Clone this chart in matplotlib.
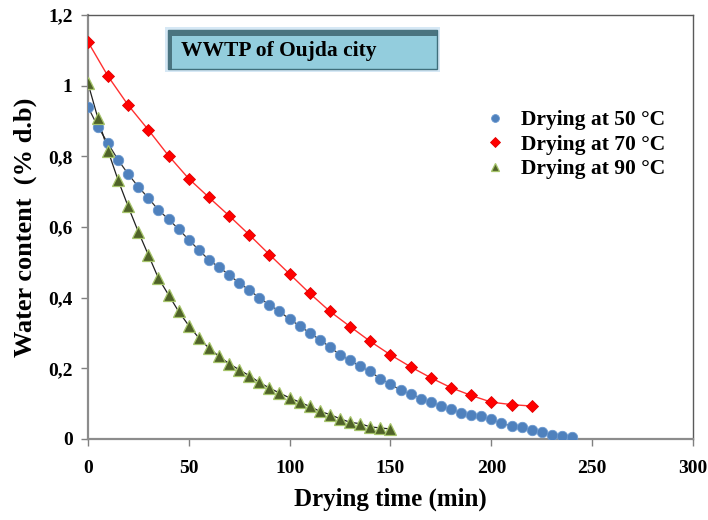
#!/usr/bin/env python3

import numpy as np
from matplotlib import pyplot as plt
from matplotlib.patches import Rectangle
from matplotlib.ticker import FuncFormatter

# * Data

t_50 = list(range(0, 245, 5))
w_50 = [0.941, 0.884, 0.837, 0.790, 0.750, 0.714, 0.682, 0.648, 0.622, 0.594,
        0.564, 0.535, 0.507, 0.486, 0.465, 0.441, 0.422, 0.399, 0.380, 0.361,
        0.339, 0.320, 0.300, 0.281, 0.260, 0.238, 0.222, 0.205, 0.191, 0.170,
        0.156, 0.137, 0.128, 0.114, 0.105, 0.094, 0.085, 0.074, 0.067, 0.064,
        0.055, 0.045, 0.036, 0.033, 0.026, 0.019, 0.012, 0.009, 0.006]

t_70 = list(range(0, 230, 10))
w_70 = [1.125, 1.027, 0.945, 0.875, 0.802, 0.737, 0.684, 0.632, 0.578, 0.522,
        0.467, 0.412, 0.361, 0.318, 0.276, 0.238, 0.204, 0.173, 0.145, 0.123,
        0.104, 0.097, 0.093]

t_90 = list(range(0, 155, 5))
w_90 = [1.009, 0.908, 0.816, 0.733, 0.658, 0.587, 0.521, 0.455, 0.408, 0.361,
        0.321, 0.286, 0.257, 0.234, 0.213, 0.196, 0.179, 0.160, 0.144, 0.130,
        0.116, 0.104, 0.092, 0.078, 0.069, 0.057, 0.047, 0.043, 0.034, 0.031,
        0.028]

labels = ["Drying at 50 \u00b0C", "Drying at 70 \u00b0C", "Drying at 90 \u00b0C"]
box_title = "WWTP of Oujda city"
x_ticks = [0, 50, 100, 150, 200, 250, 300]
y_ticks = [0, 0.2, 0.4, 0.6, 0.8, 1.0, 1.2]

# * Plotting

plt.rcParams['font.family'] = ['Liberation Serif', 'DejaVu Serif']
plt.rcParams['font.weight'] = 'bold'

fig = plt.figure(figsize=(7.08, 5.2), dpi=100)
ax = fig.add_axes([0.124, 0.156, 0.855, 0.815])

ax.plot(t_50, w_50, color='#303030', lw=0.9, zorder=2)
ax.plot(t_70, w_70, color='#FF3030', lw=1.0, zorder=2)
ax.plot(t_90, w_90, color='#202020', lw=0.9, zorder=2)

h50, = ax.plot(t_50, w_50, 'o', ms=7.5, mfc='#4F81BD', mec='#6A98CF',
               mew=0.6, ls='none', zorder=3, label=labels[0])
h70, = ax.plot(t_70, w_70, 'D', ms=6.5, mfc='#FF0000', mec='#E00000',
               mew=0.6, ls='none', zorder=3, label=labels[1])
h90, = ax.plot(t_90, w_90, '^', ms=8, mfc='#4F6228', mec='#A6C46A',
               mew=0.9, ls='none', zorder=3, label=labels[2])

ax.set_xlim(0, 300)
ax.set_ylim(0, 1.2)
ax.set_xticks(x_ticks)
ax.set_yticks(y_ticks)
ax.yaxis.set_major_formatter(
    FuncFormatter(lambda v, p: ('%g' % round(v, 1)).replace('.', ',')))
ax.tick_params(direction='out', length=5, width=1, color='#808080',
               labelsize=14, pad=6)
ax.tick_params(axis='x', pad=10)
for lab in ax.get_xticklabels() + ax.get_yticklabels():
    lab.set_fontweight('bold')

for side in ['left', 'bottom']:
    ax.spines[side].set_color('#8C8C8C')
    ax.spines[side].set_linewidth(1.6)
for side in ['top', 'right']:
    ax.spines[side].set_color('#5A5A5A')
    ax.spines[side].set_linewidth(1.0)

ax.set_xlabel("Drying time (min)", fontsize=18, fontweight='bold', labelpad=8)
ax.set_ylabel("Water content  (% d.b)", fontsize=19, fontweight='bold',
              labelpad=8)

leg = fig.legend(handles=[h50, h70, h90], loc='upper left',
                 bbox_to_anchor=(0.657, 0.825), frameon=False,
                 prop={'size': 15.5, 'weight': 'bold'}, handlelength=1.0,
                 handletextpad=0.7, labelspacing=0.2, markerscale=0.75)

# Title box with a dark shaded edge
bx0, by0, bw, bh = 168 / 708, 1 - 69 / 520, 269 / 708, 39 / 520
fig.patches.append(Rectangle((bx0 - 0.004, by0 - 0.005), bw + 0.008, bh + 0.01,
                             transform=fig.transFigure, facecolor='#D6E8F5',
                             edgecolor='none', zorder=4))
fig.patches.append(Rectangle((bx0, by0), bw, bh, transform=fig.transFigure,
                             facecolor='#93CDDD', edgecolor='#3F6F7C',
                             lw=1.0, zorder=5))
fig.patches.append(Rectangle((bx0, by0 + bh - 0.012), bw, 0.012,
                             transform=fig.transFigure, facecolor='#4A7480',
                             edgecolor='none', zorder=6))
fig.patches.append(Rectangle((bx0, by0), 0.006, bh, transform=fig.transFigure,
                             facecolor='#4A7480', edgecolor='none', zorder=6))
fig.text(bx0 + 0.018, by0 + bh * 0.45, box_title, fontsize=15.5,
         fontweight='bold', va='center', ha='left', zorder=7)

fig.savefig('out.png', dpi=100)
